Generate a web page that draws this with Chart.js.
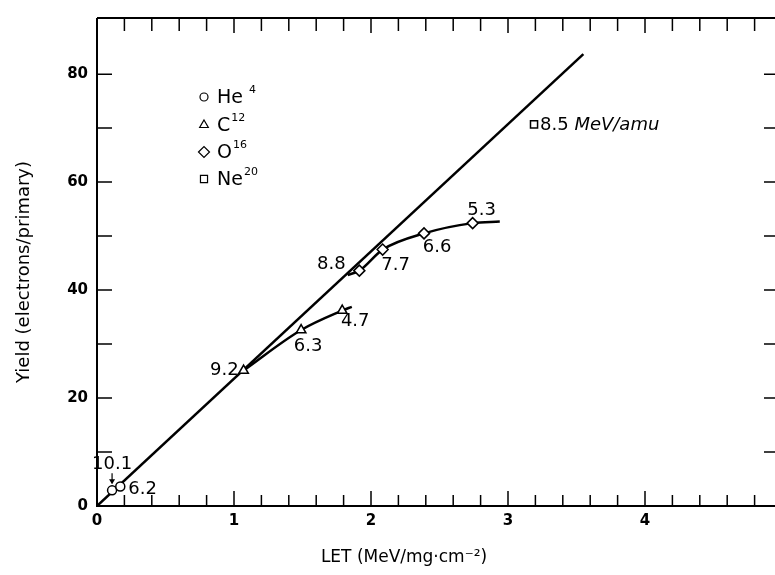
<!DOCTYPE html>
<html><head><meta charset="utf-8">
<script src="https://cdn.jsdelivr.net/npm/chart.js@4.4.1/dist/chart.umd.min.js"></script>
<style>html,body{margin:0;padding:0;background:#fff;overflow:hidden;width:775px;height:575px}canvas{display:block}</style>
</head><body><canvas id="c" width="800" height="575"></canvas>
<script>
// ---- data ----
const xTickLabels = ['0','1','2','3','4','5'];
const yTickLabels = ['0','20','40','60','80'];
const heLET = [0.11, 0.17],  heYield = [2.9, 3.6],  heEnergy = ['10.1', '6.2'];
const cLET  = [1.07, 1.49, 1.79], cYield = [25.1, 32.6, 36.2], cEnergy = ['9.2', '6.3', '4.7'];
const oLET  = [1.915, 2.085, 2.387, 2.742], oYield = [43.6, 47.5, 50.5, 52.4], oEnergy = ['8.8', '7.7', '6.6', '5.3'];
const neLET = [3.19], neYield = [70.7], neEnergy = ['8.5 MeV/amu'];
const lineLET = [0, 3.55], lineYield = [0, 83.7];
const cCurveLET = [1.07, 1.49, 1.79, 1.86], cCurveYield = [25.1, 32.6, 36.2, 36.9];
const oCurveLET = [1.83, 1.915, 2.085, 2.387, 2.742, 2.94], oCurveYield = [42.8, 43.6, 47.5, 50.5, 52.4, 52.7];
const legendNames = ['He', 'C', 'O', 'Ne'], legendMass = ['4', '12', '16', '20'];

const pts = (xs, ys) => xs.map((x, i) => ({x, y: ys[i]}));
const FONT = '"DejaVu Sans", sans-serif';

// label offsets (style only)
const labelOffsets = [
  [[0, -26, 'center'], [8, 3, 'left']],
  [[-5, 0, 'right'], [7, 16, 'center'], [13, 11, 'center']],
  [[-28, -6, 'center'], [13, 16, 'center'], [13, 14, 'center'], [9, -13, 'center']],
  [[6, 1, 'left']]
];
const energies = [heEnergy, cEnergy, oEnergy, neEnergy];

const deco = {
  id: 'deco',
  afterDraw(chart) {
    const ctx = chart.ctx, a = chart.chartArea;
    const xs = chart.scales.x, ys = chart.scales.y;
    ctx.save();
    ctx.strokeStyle = '#000'; ctx.fillStyle = '#000';
    // frame
    ctx.lineWidth = 2;
    ctx.beginPath();
    ctx.moveTo(a.left, a.top); ctx.lineTo(a.right, a.top);
    ctx.moveTo(a.left, a.top); ctx.lineTo(a.left, a.bottom);
    ctx.moveTo(a.left - 1, a.bottom); ctx.lineTo(a.right, a.bottom);
    ctx.moveTo(a.right, a.top); ctx.lineTo(a.right, a.bottom);
    ctx.stroke();
    // inward tick marks
    ctx.lineWidth = 1.5;
    ctx.beginPath();
    for (let k = 1; k < 25; k++) {
      const v = k * 0.2, px = xs.getPixelForValue(v);
      const major = k % 5 === 0;
      ctx.moveTo(px, a.bottom); ctx.lineTo(px, a.bottom - (major ? 15 : 11));
      ctx.moveTo(px, a.top); ctx.lineTo(px, a.top + (major ? 15 : 13));
    }
    for (let v = 10; v <= 80; v += 10) {
      const py = ys.getPixelForValue(v);
      ctx.moveTo(a.left, py); ctx.lineTo(a.left + 15, py);
      ctx.moveTo(a.right, py); ctx.lineTo(a.right - 18, py);
    }
    ctx.stroke();
    // point labels
    ctx.font = '18px ' + FONT;
    ctx.textBaseline = 'middle';
    energies.forEach((labs, di) => {
      const meta = chart.getDatasetMeta(di);
      labs.forEach((t, j) => {
        const el = meta.data[j], o = labelOffsets[di][j];
        ctx.textAlign = o[2];
        if (di === 3) {
          ctx.textAlign = 'left';
          ctx.font = '18px ' + FONT;
          const n = '8.5 ';
          ctx.fillText(n, el.x + o[0], el.y + o[1]);
          const w = ctx.measureText(n).width;
          ctx.font = 'italic 18px ' + FONT;
          ctx.fillText(t.slice(4), el.x + o[0] + w, el.y + o[1]);
          ctx.font = '18px ' + FONT;
        } else {
          ctx.fillText(t, el.x + o[0], el.y + o[1]);
        }
      });
    });
    // arrow for 10.1
    const p0 = chart.getDatasetMeta(0).data[0];
    ctx.lineWidth = 1.2;
    ctx.beginPath();
    ctx.moveTo(p0.x, p0.y - 17); ctx.lineTo(p0.x, p0.y - 7); ctx.stroke();
    ctx.beginPath();
    ctx.moveTo(p0.x - 3, p0.y - 11); ctx.lineTo(p0.x, p0.y - 6); ctx.lineTo(p0.x + 3, p0.y - 11); ctx.closePath(); ctx.fill();
    // legend
    const styles = ['circle', 'triangle', 'rectRot', 'rect'];
    const radii = [4, 5, 5.5, 5];
    const rows = [97, 125, 152, 179];
    const gaps = [6, 1, 1, 1];
    legendNames.forEach((n, i) => {
      ctx.fillStyle = '#fff'; ctx.strokeStyle = '#000';
      Chart.helpers.drawPoint(ctx, {pointStyle: styles[i], radius: radii[i], rotation: 0, borderWidth: 1.5}, 204, rows[i]);
      ctx.fillStyle = '#000';
      ctx.textAlign = 'left'; ctx.textBaseline = 'middle';
      ctx.font = '19px ' + FONT;
      ctx.fillText(n, 217, rows[i] + 1);
      const w = ctx.measureText(n).width;
      ctx.font = '11px ' + FONT;
      ctx.fillText(legendMass[i], 217 + w + gaps[i], rows[i] - 7);
    });
    // axis titles
    ctx.font = '18px ' + FONT;
    ctx.textAlign = 'center'; ctx.textBaseline = 'middle';
    ctx.save();
    ctx.translate(24, 272); ctx.rotate(-Math.PI / 2);
    ctx.fillText('Yield (electrons/primary)', 0, 0);
    ctx.restore();
    ctx.font = '17px ' + FONT;
    ctx.fillText('LET (MeV/mg\u00B7cm\u207B\u00B2)', 404, 558);
    ctx.restore();
  }
};

const marker = (data, style, r) => ({data, showLine: false, pointStyle: style, pointRadius: r,
  pointBackgroundColor: '#fff', pointBorderColor: '#000', pointBorderWidth: 1.5});
const curve = (data, mono) => ({data, showLine: true, pointRadius: 0, borderColor: '#000', borderWidth: 2.5,
  cubicInterpolationMode: mono ? 'monotone' : 'default', tension: 0});

new Chart(document.getElementById('c'), {
  type: 'scatter',
  data: {
    datasets: [
      marker(pts(heLET, heYield), 'circle', 4.5),
      marker(pts(cLET, cYield), 'triangle', 5.5),
      marker(pts(oLET, oYield), 'rectRot', 5.5),
      marker(pts(neLET, neYield), 'rect', 5),
      curve(pts(lineLET, lineYield), false),
      curve(pts(cCurveLET, cCurveYield), true),
      curve(pts(oCurveLET, oCurveYield), true)
    ]
  },
  options: {
    responsive: false, animation: false,
    layout: {padding: {top: 16, right: 18, left: 0, bottom: 0}},
    plugins: {legend: {display: false}, tooltip: {enabled: false}},
    scales: {
      x: {type: 'linear', min: 0, max: 5,
        grid: {display: false, drawTicks: false}, border: {display: false},
        ticks: {stepSize: 1, autoSkip: false, maxRotation: 0, padding: 6, color: '#000',
          font: {family: FONT, size: 15, weight: 'bold'},
          callback: v => Number.isInteger(v) ? xTickLabels[v] : ''},
        afterFit: s => { s.height = 69; }
      },
      y: {type: 'linear', min: 0, max: 90.4,
        grid: {display: false, drawTicks: false}, border: {display: false},
        ticks: {stepSize: 10, autoSkip: false, padding: 9, color: '#000',
          font: {family: FONT, size: 15, weight: 'bold'},
          callback: v => yTickLabels.includes(String(v)) ? String(v) : ''},
        afterFit: s => { s.width = 97; }
      }
    }
  },
  plugins: [deco]
});
</script>
</body></html>
